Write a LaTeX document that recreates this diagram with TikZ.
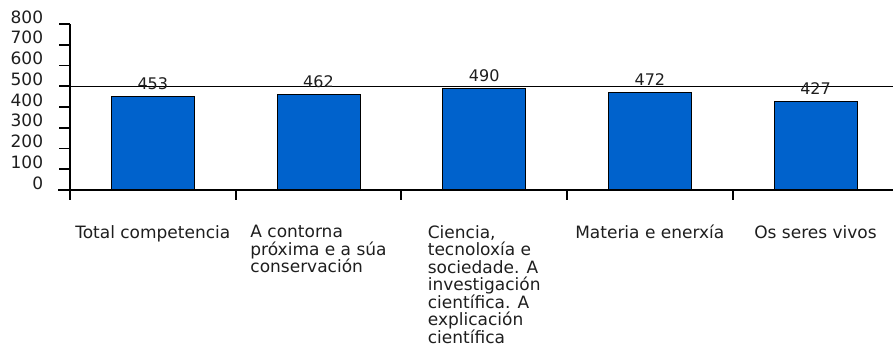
\documentclass[tikz,border=0pt]{standalone}
\usepackage{fontspec}
\setmainfont{DejaVu Sans}
\definecolor{barblue}{RGB}{0,98,204}
\definecolor{txt}{RGB}{30,30,30}
\begin{document}
\begin{tikzpicture}[x=1pt,y=-1pt,
  axisline/.style={line width=1.8pt,black},
  refline/.style={line width=1.2pt,black},
  barbox/.style={fill=barblue,draw=black,line width=1pt},
  vallabel/.style={inner sep=0pt,text=txt,font=\fontsize{16}{17}\selectfont},
  ylabel/.style={inner sep=0pt,anchor=east,text=txt,font=\fontsize{17}{17.5}\selectfont},
  catlabel/.style={inner sep=0pt,anchor=north,align=left,text=txt,font=\fontsize{17}{17.5}\selectfont}]
\useasboundingbox (0,0) rectangle (893,346);
% bars
\foreach \v [count=\i from 0] in {453,462,490,472,427} {
  \pgfmathsetmacro\cx{70+(\i+0.5)*165.67}
  \pgfmathsetmacro\ty{190-\v*0.2075}
  \filldraw[barbox] (\cx-41.5,190) rectangle (\cx+41.5,\ty);
}
% reference line at 500
\coordinate (refL) at (70,86.25);
\coordinate (refR) at (893,86.25);
\draw[refline] (refL) -- (refR);
% value labels
\foreach \v [count=\i from 0] in {453,462,490,472,427} {
  \pgfmathsetmacro\cx{70+(\i+0.5)*165.67}
  \pgfmathsetmacro\ty{190-\v*0.2075}
  \node[vallabel] (v\i) at (\cx,\ty-12.7) {\v};
}
% y axis
\coordinate (ytop) at (70,24);
\coordinate (ybot) at (70,200);
\draw[axisline] (ytop) -- (ybot);
\foreach \k in {0,...,8} {
  \pgfmathsetmacro\yy{190-\k*20.75}
  \pgfmathtruncatemacro\lab{\k*100}
  \coordinate (tl\k) at (59,\yy);
  \coordinate (tr\k) at (70,\yy);
  \draw[axisline] (tl\k) -- (tr\k);
  \node[ylabel] (y\k) at (43.3,\yy-7) {\lab};
}
% x axis
\coordinate (xl) at (58,190);
\coordinate (xr) at (893,190);
\draw[axisline] (xl) -- (xr);
\foreach \i in {0,...,4} {
  \pgfmathsetmacro\tx{70+\i*165.67}
  \coordinate (ct\i) at (\tx,190);
  \coordinate (cb\i) at (\tx,200);
  \draw[axisline] (ct\i) -- (cb\i);
}
% category labels
\node[catlabel] (c0) at (152.8,225) {Total competencia};
\node[catlabel] (c1) at (318.5,225) {A contorna\\próxima e a súa\\conservación};
\node[catlabel] (c2) at (484.2,225) {Ciencia,\\tecnoloxía e\\sociedade. A\\investigación\\científica. A\\explicación\\científica};
\node[catlabel] (c3) at (649.8,225) {Materia e enerxía};
\node[catlabel] (c4) at (815.5,225) {Os seres vivos};
\end{tikzpicture}
\end{document}
